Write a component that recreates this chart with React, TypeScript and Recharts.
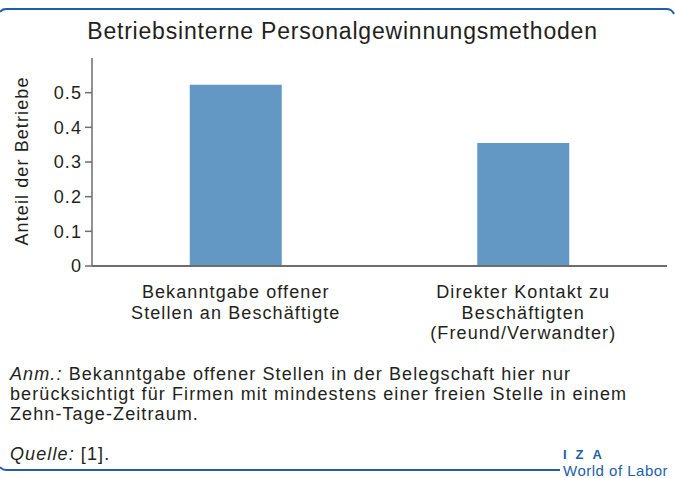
import { Bar, BarChart, XAxis, YAxis } from "recharts";

const categories = [
  "Bekanntgabe offener\nStellen an Beschäftigte",
  "Direkter Kontakt zu\nBeschäftigten\n(Freund/Verwandter)",
];
const shares = [0.523, 0.355];
const yTicks = [0, 0.1, 0.2, 0.3, 0.4, 0.5];

const title = "Betriebsinterne Personalgewinnungsmethoden";
const yLabel = "Anteil der Betriebe";
const noteLines = [
  "Bekanntgabe offener Stellen in der Belegschaft hier nur",
  "berücksichtigt für Firmen mit mindestens einer freien Stelle in einem",
  "Zehn-Tage-Zeitraum.",
];

const FONT = "'Liberation Sans', Arial, sans-serif";
const BLUE = "#1d5fa8";
const TEXT = "#231f20";
const SPACING = 1.1;

const data = categories.map((name, i) => ({ name, value: shares[i] }));

function CategoryTick({ x, y, payload }: { x?: number; y?: number; payload?: { value: string } }) {
  const lines = (payload?.value ?? "").split("\n");
  return (
    <text
      x={x}
      y={(y ?? 0) + 24}
      textAnchor="middle"
      fill={TEXT}
      fontSize={18}
      fontFamily={FONT}
      letterSpacing={SPACING}
    >
      {lines.map((line, i) => (
        <tspan key={i} x={x} dy={i === 0 ? 0 : 20.5}>
          {line}
        </tspan>
      ))}
    </text>
  );
}

export default function App() {
  return (
    <div
      style={{
        position: "absolute",
        left: 0,
        top: 0,
        width: 675,
        height: 478,
        overflow: "hidden",
        background: "#fff",
        fontFamily: FONT,
        color: TEXT,
      }}
    >
      <svg width={675} height={478} style={{ position: "absolute", left: 0, top: 0 }}>
        <path d="M0 12 Q2 9 6 9 L666 9 Q672 9 674 14" fill="none" stroke={BLUE} strokeWidth={2} />
        <path d="M0 467 Q2 470 6 470 L560 470" fill="none" stroke={BLUE} strokeWidth={2} />
      </svg>
      <div
        style={{
          position: "absolute",
          left: 5,
          width: 675,
          top: 16,
          textAlign: "center",
          fontSize: 23,
          lineHeight: "30px",
          letterSpacing: 0.8,
          whiteSpace: "nowrap",
        }}
      >
        {title}
      </div>
      <div style={{ position: "absolute", left: 22, top: 161, width: 0, height: 0 }}>
        <div
          style={{
            position: "absolute",
            transform: "translate(-50%, -50%) rotate(-90deg)",
            whiteSpace: "nowrap",
            fontSize: 18,
            letterSpacing: SPACING,
          }}
        >
          {yLabel}
        </div>
      </div>
      <div style={{ position: "absolute", left: 0, top: 0 }}>
        <BarChart
          width={675}
          height={478}
          data={data}
          margin={{ top: 58, right: 8, bottom: 182, left: 0 }}
          barCategoryGap="34%"
        >
          <XAxis
            dataKey="name"
            interval={0}
            tickLine={false}
            axisLine={{ stroke: "#6d6d6d", strokeWidth: 2 }}
            tick={<CategoryTick />}
          />
          <YAxis
            width={92}
            domain={[0, 0.6]}
            ticks={yTicks}
            tickFormatter={(v: number) => (v === 0 ? "0" : v.toFixed(1))}
            tickSize={7}
            tickMargin={3}
            axisLine={{ stroke: "#6d6d6d", strokeWidth: 1.5 }}
            tickLine={{ stroke: "#6d6d6d", strokeWidth: 1.5 }}
            tick={{ fill: TEXT, fontSize: 18, fontFamily: FONT, letterSpacing: SPACING }}
          />
          <Bar dataKey="value" fill="#6398c4" isAnimationActive={false} />
        </BarChart>
      </div>
      <div
        style={{
          position: "absolute",
          left: 10,
          top: 364,
          fontSize: 18,
          lineHeight: "20px",
          letterSpacing: SPACING,
          whiteSpace: "nowrap",
        }}
      >
        <div>
          <i>Anm.:</i> {noteLines[0]}
        </div>
        <div>{noteLines[1]}</div>
        <div>{noteLines[2]}</div>
      </div>
      <div
        style={{
          position: "absolute",
          left: 10,
          top: 444,
          fontSize: 18,
          lineHeight: "20px",
          letterSpacing: SPACING,
        }}
      >
        <i>Quelle:</i> [1].
      </div>
      <div
        style={{
          position: "absolute",
          left: 563,
          top: 448,
          fontSize: 13,
          fontWeight: "bold",
          color: BLUE,
          letterSpacing: 9,
          lineHeight: "13px",
        }}
      >
        IZA
      </div>
      <div
        style={{
          position: "absolute",
          left: 563,
          top: 463,
          fontSize: 15,
          lineHeight: "15px",
          color: BLUE,
          whiteSpace: "nowrap",
          letterSpacing: 0.5,
        }}
      >
        World of Labor
      </div>
    </div>
  );
}
